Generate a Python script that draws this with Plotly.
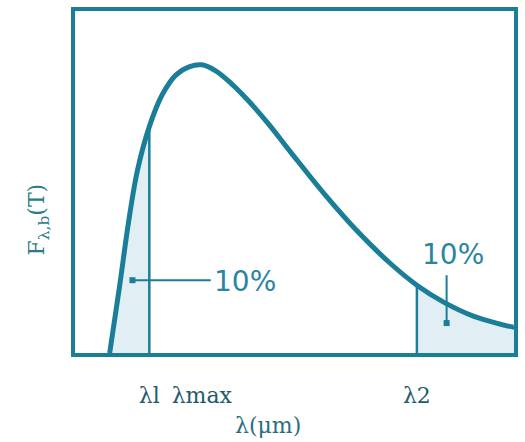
import plotly.graph_objects as go

# Curve (arbitrary units, x 0..10, y 0..10)
curve_x = [0.790, 1.016, 1.219, 1.422, 1.693, 1.986, 2.302, 2.596, 2.889, 3.205,
           3.567, 3.950, 4.402, 4.921, 5.688, 6.433, 7.178, 7.788, 8.397, 9.074,
           9.977, 10.0]
curve_y = [0.0, 1.953, 3.819, 5.335, 6.618, 7.551, 8.134, 8.367, 8.426, 8.251,
           7.872, 7.376, 6.706, 5.860, 4.636, 3.557, 2.624, 1.983, 1.487, 1.079,
           0.758, 0.758]

lam1, lam_max, lam2 = 1.693, 2.889, 7.788
tick_vals = [lam1, lam_max, lam2]
tick_text = ["λl", "λmax", "λ2"]

TEAL = "#1b7e98"
FILL = "rgba(205,228,237,0.6)"
SERIF = "DejaVu Serif"

i1 = curve_x.index(lam1)
i2 = curve_x.index(lam2)

fig = go.Figure()
# shaded tails
fig.add_trace(go.Scatter(x=curve_x[:i1 + 1], y=curve_y[:i1 + 1], mode="lines",
                         line=dict(width=0, shape="spline"), fill="tozeroy",
                         fillcolor=FILL, hoverinfo="skip"))
fig.add_trace(go.Scatter(x=curve_x[i2:], y=curve_y[i2:], mode="lines",
                         line=dict(width=0, shape="spline"), fill="tozeroy",
                         fillcolor=FILL, hoverinfo="skip"))
# vertical lines at lambda1 and lambda2
fig.add_trace(go.Scatter(x=[lam1, lam1], y=[0, curve_y[i1]], mode="lines",
                         line=dict(color=TEAL, width=2.5), hoverinfo="skip"))
fig.add_trace(go.Scatter(x=[lam2, lam2], y=[0, curve_y[i2]], mode="lines",
                         line=dict(color=TEAL, width=2.5), hoverinfo="skip"))
# main curve
fig.add_trace(go.Scatter(x=curve_x, y=curve_y, mode="lines",
                         line=dict(color=TEAL, width=5, shape="spline", smoothing=1.0)))

# leader lines for the 10% labels
fig.add_trace(go.Scatter(x=[1.309, 3.093], y=[2.128, 2.128], mode="lines",
                         line=dict(color=TEAL, width=2), hoverinfo="skip"))
fig.add_trace(go.Scatter(x=[1.309], y=[2.128], mode="markers",
                         marker=dict(color=TEAL, size=6, symbol="square"), hoverinfo="skip"))
fig.add_trace(go.Scatter(x=[8.465, 8.465], y=[0.875, 2.274], mode="lines",
                         line=dict(color=TEAL, width=2), hoverinfo="skip"))
fig.add_trace(go.Scatter(x=[8.465], y=[0.875], mode="markers",
                         marker=dict(color=TEAL, size=6, symbol="square"), hoverinfo="skip"))

fig.add_annotation(x=3.115, y=2.10, text="10%", showarrow=False, xanchor="left",
                   font=dict(family="DejaVu Sans", size=28, color="#2a86a0"))
fig.add_annotation(x=8.60, y=2.886, text="10%", showarrow=False,
                   font=dict(family="DejaVu Sans", size=28, color="#2a86a0"))

# axis titles as annotations
fig.add_annotation(xref="paper", yref="paper", x=0.44, y=-0.213, text="λ(μm)",
                   showarrow=False, yanchor="middle",
                   font=dict(family=SERIF, size=22, color="#2a6f80"))
fig.add_annotation(xref="paper", yref="paper", x=-0.12, y=0.39, text="F<sub>λ,b</sub>(T)",
                   showarrow=False, textangle=-90,
                   font=dict(family=SERIF, size=22, color="#2a7a8a"))

fig.update_layout(
    width=525, height=442,
    margin=dict(l=75, r=7, t=10, b=89),
    paper_bgcolor="white", plot_bgcolor="white",
    showlegend=False,
    xaxis=dict(range=[0, 10], showgrid=False, zeroline=False, showline=True, mirror=True,
               linecolor=TEAL, linewidth=4, tickvals=tick_vals, ticktext=tick_text,
               ticks="", ticklabelstandoff=20,
               tickfont=dict(family=SERIF, size=22, color="#1f5c6b")),
    yaxis=dict(range=[0, 10], showgrid=False, zeroline=False, showline=True, mirror=True,
               linecolor=TEAL, linewidth=4, showticklabels=False, ticks=""),
)

fig.write_html("out.html")
